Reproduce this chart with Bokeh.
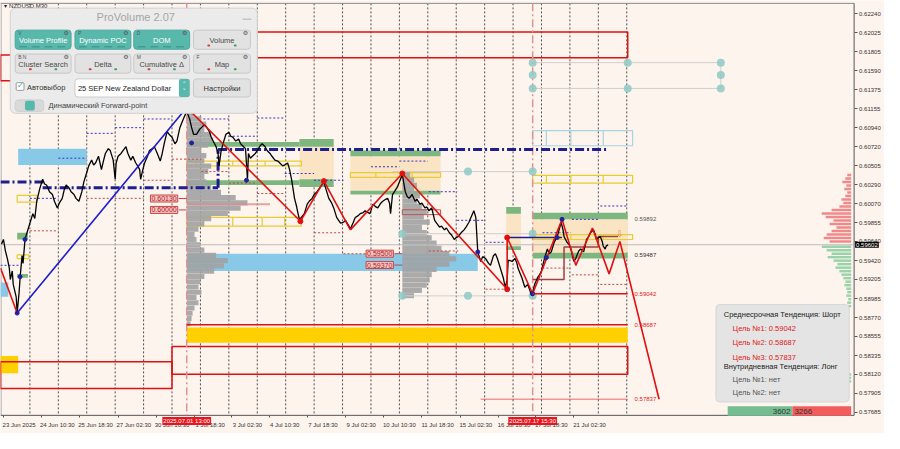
import numpy as np
from bokeh.plotting import figure
from bokeh.models import (Range1d, LinearAxis, FixedTicker, BoxAnnotation, Label, NumeralTickFormatter)
from bokeh.core.properties import value
from bokeh.embed import file_html
from bokeh.resources import INLINE

# ------------------------------------------------------------------ data
symbol = "NZDUSD,M30"
last_price = 0.59602

# close line (bar position, price)
price_x = [1, 3, 5, 7, 9, 10, 12, 13, 16, 17, 19, 20, 22, 23, 25, 27, 30, 33, 35, 37, 40, 43, 45, 47, 50,
           53, 55, 58, 60, 63, 65, 67, 70, 72, 75, 77, 80, 83, 85, 88, 90, 93, 95, 97, 100, 103, 105, 107,
           110, 112, 115, 117, 118, 120, 123, 125, 128, 130, 133, 135, 138, 140, 142, 143, 145, 147, 150,
           152, 155, 157, 160, 163, 165, 167, 170, 172, 175, 178, 180, 183, 185, 187, 190, 193, 195, 197,
           200, 203, 205, 208, 210, 213, 215, 217, 220, 222, 223, 225, 227, 230, 233, 235, 237, 240, 243,
           245, 248, 250, 252, 253, 255, 257, 260, 262, 265, 267, 270, 272, 275, 277, 280, 283, 285, 288,
           290, 293, 295, 297, 300, 302, 303, 305, 307, 310, 313, 315, 318, 320, 323, 325, 328, 330, 332,
           335, 338, 340, 343, 345, 347, 350, 352, 355, 357, 360, 362, 365, 367, 370, 372, 375, 377, 380,
           383, 385, 388, 390, 393, 395, 397, 398, 400, 402, 405, 407, 410, 413, 415, 417, 420, 423, 425,
           428, 430, 433, 435, 437, 440, 443, 445, 448, 450, 453, 455, 458, 460, 463, 465, 467, 470, 473,
           475, 478, 480, 483, 485, 486, 487, 490, 492, 495, 498, 500, 503, 505, 507, 510, 513, 515, 517,
           518, 520, 522, 525, 527, 528, 530, 532, 535, 538, 540, 542, 545, 548, 550, 552, 555, 558, 560,
           562, 565, 568, 570, 572, 574, 575, 578, 580, 582, 585, 587, 588, 590, 592, 595, 598, 600, 602,
           605, 607, 608, 610, 612, 614, 615, 617, 618, 620]
price_y = [0.59608, 0.59662, 0.59531, 0.59444, 0.59335, 0.59204, 0.59302, 0.59149, 0.59007, 0.58821,
           0.59062, 0.59225, 0.59477, 0.59389, 0.59662, 0.59739, 0.59848, 0.59957, 0.59903, 0.60099,
           0.60241, 0.60350, 0.60296, 0.60285, 0.60208, 0.60176, 0.60099, 0.60023, 0.60077, 0.60132,
           0.60230, 0.60285, 0.60252, 0.60208, 0.60176, 0.60132, 0.60099, 0.60208, 0.60318, 0.60427,
           0.60503, 0.60569, 0.60514, 0.60536, 0.60613, 0.60460, 0.60558, 0.60645, 0.60700, 0.60678,
           0.60569, 0.60350, 0.60536, 0.60613, 0.60645, 0.60678, 0.60722, 0.60645, 0.60569, 0.60613,
           0.60536, 0.60503, 0.60460, 0.60350, 0.60449, 0.60536, 0.60613, 0.60678, 0.60700, 0.60722,
           0.60645, 0.60558, 0.60645, 0.60755, 0.60897, 0.60864, 0.60831, 0.60755, 0.60787, 0.60940,
           0.60995, 0.61050, 0.61126, 0.61039, 0.60940, 0.60864, 0.60864, 0.60918, 0.60940, 0.60973,
           0.60951, 0.60897, 0.60831, 0.60787, 0.60722, 0.60645, 0.60503, 0.60667, 0.60755, 0.60864,
           0.60886, 0.60842, 0.60831, 0.60787, 0.60809, 0.60755, 0.60722, 0.60700, 0.60350, 0.60645,
           0.60591, 0.60613, 0.60645, 0.60678, 0.60733, 0.60755, 0.60722, 0.60678, 0.60645, 0.60613,
           0.60569, 0.60558, 0.60536, 0.60503, 0.60514, 0.60536, 0.60460, 0.60350, 0.60132, 0.60045,
           0.59990, 0.59892, 0.59914, 0.59957, 0.60066, 0.60099, 0.60132, 0.60176, 0.60208, 0.60241,
           0.60285, 0.60318, 0.60241, 0.60132, 0.60077, 0.60023, 0.59914, 0.59881, 0.59848, 0.59859,
           0.59881, 0.59826, 0.59782, 0.59859, 0.59914, 0.59935, 0.59957, 0.59968, 0.59990, 0.59968,
           0.59957, 0.60066, 0.60034, 0.60023, 0.60077, 0.60099, 0.60121, 0.60132, 0.60077, 0.59957,
           0.60176, 0.60208, 0.60263, 0.60318, 0.60405, 0.60208, 0.60154, 0.60132, 0.60176, 0.60099,
           0.60121, 0.60066, 0.60077, 0.60023, 0.60034, 0.59990, 0.60023, 0.59881, 0.59848, 0.59804,
           0.59815, 0.59772, 0.59793, 0.59739, 0.59717, 0.59662, 0.59684, 0.59695, 0.59739, 0.59772,
           0.59804, 0.59859, 0.59914, 0.59990, 0.59914, 0.59717, 0.59520, 0.59411, 0.59466, 0.59444,
           0.59389, 0.59367, 0.59477, 0.59498, 0.59444, 0.59335, 0.59225, 0.59116, 0.59204, 0.59422,
           0.59422, 0.59411, 0.59444, 0.59389, 0.59335, 0.59280, 0.59225, 0.59116, 0.59149, 0.59083,
           0.59018, 0.59149, 0.59225, 0.59258, 0.59302, 0.59444, 0.59553, 0.59498, 0.59520, 0.59630,
           0.59695, 0.59772, 0.59859, 0.59772, 0.59695, 0.59630, 0.59608, 0.59553, 0.59411, 0.59444,
           0.59477, 0.59531, 0.59553, 0.59520, 0.59662, 0.59695, 0.59739, 0.59772, 0.59717, 0.59662,
           0.59684, 0.59695, 0.59640, 0.59586, 0.59553, 0.59586, 0.59602]

# zigzag swings
zz_x = [0, 17, 190, 306, 330, 357, 410, 517, 517, 543]
zz_y = [0.59335, 0.58821, 0.61170, 0.59870, 0.60329, 0.59772, 0.60416, 0.59094, 0.59684, 0.59042]
zz_leg_color = ["#e01010", "#1c1cd0", "#e01010", "#e01010", "#e01010", "#e01010", "#e01010", "#e01010", "#e01010"]
fc_x = [543, 573, 587, 604, 621, 632, 672]
fc_y = [0.59042, 0.59892, 0.59367, 0.59793, 0.59269, 0.59640, 0.57837]
red_dot_x = [190, 306, 330, 410, 517, 517]
red_dot_y = [0.61170, 0.59870, 0.60329, 0.60416, 0.59094, 0.59684]
blue_dot_x = [17, 20, 25, 195, 251, 487, 543, 557, 568, 573]
blue_dot_y = [0.58821, 0.59236, 0.59662, 0.60765, 0.60339, 0.59520, 0.59042, 0.59455, 0.59684, 0.59892]

# targets
tgt_price = [0.59042, 0.58687, 0.57837]
tgt_x0 = [543, 190, 490]
zone_lbl_price = [0.59892, 0.59487]

# zones
blue_x0 = [18, 190, 0]
blue_x1 = [88, 487, 8]
blue_top = [0.60700, 0.59498, 0.59171]
blue_bot = [0.60514, 0.59302, 0.59007]

green_x0 = [17, 17, 190, 305, 190, 305, 357, 357, 516, 516, 543, 543]
green_x1 = [28, 28, 305, 340, 305, 340, 449, 449, 531, 531, 640, 640]
green_top = [0.59739, 0.59269, 0.60777, 0.60809, 0.60339, 0.60350, 0.60678, 0.60219, 0.60034, 0.59586, 0.59968, 0.59509]
green_bot = [0.59662, 0.59225, 0.60722, 0.60722, 0.60285, 0.60263, 0.60613, 0.60176, 0.59957, 0.59542, 0.59892, 0.59444]

peach_x0 = [305, 357, 516, 543]
peach_x1 = [340, 449, 531, 640]
peach_top = [0.60722, 0.60613, 0.59957, 0.59892]
peach_bot = [0.60350, 0.60219, 0.59586, 0.59509]

ybox_x0 = [190, 190, 357, 17, 17, 543, 543]
ybox_x1 = [307, 307, 449, 37, 29, 645, 645]
ybox_top = [0.60558, 0.59914, 0.60427, 0.60165, 0.59487, 0.60394, 0.59717]
ybox_bot = [0.60503, 0.59815, 0.60372, 0.60088, 0.59444, 0.60307, 0.59662]
ybox_div_box = [0, 0, 0, 1, 1, 1, 1, 2, 2, 5, 5, 5, 6, 6]
ybox_div_x = [200, 237, 270, 207, 237, 267, 290, 383, 420, 557, 582, 615, 582, 615]

lbox_x0, lbox_x1, lbox_top, lbox_bot = 543, 645, 0.60907, 0.60733
lbox_div_x = [557, 582, 615]

gold_x0 = [190, 0]
gold_x1 = [640, 18]
gold_top = [0.58657, 0.58330]
gold_bot = [0.58482, 0.58133]

rr_x0 = [175, 0, 175, 0]
rr_x1 = [640, 175, 640, 175]
rr_top = [0.62033, 0.61770, 0.58439, 0.58264]
rr_bot = [0.61738, 0.61475, 0.58122, 0.57958]

poc_x0 = [0, 43, 222, 222]
poc_x1 = [47, 222, 222, 618]
poc_y0 = [0.60318, 0.60252, 0.60252, 0.60689]
poc_y1 = [0.60318, 0.60252, 0.60689, 0.60689]

step_x = [543, 575, 575, 610, 610, 630]
step_y = [0.59204, 0.59204, 0.59575, 0.59575, 0.59695, 0.59695]

nav_x0 = [0, 30, 59, 88, 117, 146, 207, 233, 262, 290, 320, 378, 407, 437, 466, 495, 553, 583, 612]
nav_x1 = [20, 59, 88, 117, 146, 175, 233, 262, 290, 320, 350, 407, 436, 466, 495, 515, 582, 610, 640]
nav_y = [0.59367, 0.60132, 0.60591, 0.60875, 0.60940, 0.61039, 0.61039, 0.60842, 0.61050, 0.60416,
         0.60339, 0.60493, 0.60558, 0.60208, 0.59881, 0.59630, 0.59739, 0.59892, 0.60045]
rdot_x0 = [30, 88, 146, 175, 205, 233, 262, 320, 350, 437, 495, 553, 583, 612]
rdot_x1 = [59, 146, 175, 205, 233, 262, 290, 350, 378, 467, 515, 582, 610, 640]
rdot_y = [0.59761, 0.60132, 0.60339, 0.60580, 0.60438, 0.60307, 0.60187, 0.59739, 0.59498, 0.59531,
          0.59094, 0.59335, 0.59258, 0.59149]

lvl_box_price = [0.60130, 0.60000, 0.59500, 0.59370]
lvl_box_x = [153, 153, 373, 373]

# volume profiles
vp1_start = 190
vp1_price = [0.6110, 0.6104, 0.6098, 0.6092, 0.6086, 0.6080, 0.6074, 0.6068, 0.6062, 0.6056, 0.6050,
             0.6044, 0.6038, 0.6032, 0.6026, 0.6020, 0.6014, 0.6008, 0.6002, 0.5996, 0.5990, 0.5984,
             0.5978, 0.5972, 0.5966, 0.5960, 0.5954, 0.5948, 0.5942, 0.5936, 0.5930, 0.5924, 0.5918,
             0.5912, 0.5906, 0.5900, 0.5894, 0.5888, 0.5882, 0.5876, 0.5870]
vp1_vol = [8, 15, 20, 18, 25, 27, 22, 15, 20, 18, 25, 22, 18, 20, 25, 35, 50, 62, 55, 42, 25, 18, 12, 8,
           10, 14, 18, 30, 42, 38, 28, 18, 14, 12, 15, 10, 12, 8, 6, 5, 4]
vp1_poc = 0.60066
vp2_start = 410
vp2_price = [0.6040, 0.6034, 0.6028, 0.6022, 0.6016, 0.6010, 0.6004, 0.5998, 0.5992, 0.5986, 0.5980,
             0.5974, 0.5968, 0.5962, 0.5956, 0.5950, 0.5944, 0.5938, 0.5932, 0.5926, 0.5920, 0.5914,
             0.5908, 0.5902]
vp2_vol = [8, 12, 15, 12, 18, 15, 20, 25, 22, 28, 20, 25, 30, 35, 40, 48, 55, 48, 35, 30, 28, 25, 20, 12]

dom_ask_price = [0.6040, 0.6036, 0.6032, 0.6028, 0.6024, 0.6020, 0.6016, 0.6012, 0.6008, 0.6004, 0.6000,
                 0.5996, 0.5992, 0.5988, 0.5984, 0.5980, 0.5976, 0.5972, 0.5968, 0.5964]
dom_ask_vol = [4, 6, 9, 5, 7, 4, 6, 10, 8, 12, 20, 30, 26, 18, 22, 15, 20, 25, 28, 22]
dom_bid_price = [0.5958, 0.5954, 0.5950, 0.5946, 0.5942, 0.5938, 0.5934, 0.5930, 0.5926, 0.5922, 0.5918,
                 0.5914, 0.5910, 0.5906, 0.5902, 0.5898, 0.5894, 0.5890, 0.5812, 0.5808, 0.5804]
dom_bid_vol = [30, 25, 20, 24, 18, 14, 16, 12, 10, 8, 6, 7, 5, 4, 5, 3, 4, 3, 10, 14, 8]
dom_buy, dom_sell = 3602, 3266

# pivot dots
piv_x = [543, 543, 543, 640, 640, 735, 735, 735, 477, 543, 410, 543, 410, 477, 543]
piv_y = [0.61683, 0.61541, 0.61388, 0.61683, 0.61388, 0.61683, 0.61541, 0.61388,
         0.60438, 0.60438, 0.59728, 0.59728, 0.59018, 0.59018, 0.59018]

# axes
y_ticks = [0.62240, 0.62025, 0.61805, 0.61590, 0.61375, 0.61155, 0.60940, 0.60720, 0.60505, 0.60290,
           0.60070, 0.59855, 0.59640, 0.59420, 0.59205, 0.58985, 0.58770, 0.58555, 0.58335, 0.58120,
           0.57905, 0.57685]
x_label_pos = [3, 42, 81, 120, 159, 198, 236, 274, 313, 352, 391, 430, 469, 508, 546, 585]
x_labels = ["23 Jun 2025", "24 Jun 10:30", "25 Jun 18:30", "27 Jun 02:30", "30 Jun 10:30", "1 Jul 18:30",
            "3 Jul 02:30", "4 Jul 10:30", "7 Jul 18:30", "9 Jul 02:30", "10 Jul 10:30", "11 Jul 18:30",
            "15 Jul 02:30", "16 Jul 10:30", "17 Jul 18:30", "21 Jul 02:30"]
grid_x = [30, 59, 88, 117, 146, 175, 204, 233, 262, 291, 320, 349, 378, 407, 436, 465, 494, 523, 552, 581, 610, 639]
event_x = [190, 543]
event_lbl = ["2025.07.01 13:00", "2025.07.17 15:30"]

# ------------------------------------------------------------------ figure
BG = "#fdf4ee"
FONT = "Liberation Sans"
K = 0.00010923          # price per reference pixel row (layout helper for overlays)
def sy(py):
    return 0.62393 - K * py

X_AXIS = 871            # position of the price scale
Y_TOP, Y_BOT = sy(3), sy(434)

p = figure(width=884, height=433, output_backend="svg", toolbar_location=None,
           x_range=Range1d(0, 902), y_range=Range1d(sy(453), sy(0)),
           x_axis_location=None, y_axis_location=None,
           min_border_left=0, min_border_right=0, min_border_top=0, min_border_bottom=0,
           background_fill_color=BG, border_fill_color=BG, outline_line_color=None)
p.grid.visible = False

yax = LinearAxis(ticker=FixedTicker(ticks=y_ticks), formatter=NumeralTickFormatter(format="0.00000"),
                 fixed_location=X_AXIS,
                 major_label_text_font_size="6px", major_label_text_font=FONT,
                 major_label_text_color="#333333", major_tick_out=3, major_tick_in=0,
                 minor_tick_line_color=None, major_label_standoff=2,
                 axis_line_color=None, major_tick_line_color="#555555")
p.add_layout(yax, "right")
centers = [x + 16 for x in x_label_pos]
xax = LinearAxis(ticker=FixedTicker(ticks=centers, minor_ticks=x_label_pos),
                 fixed_location=Y_BOT,
                 major_label_overrides={c: l for c, l in zip(centers, x_labels)},
                 major_label_text_font_size="6px", major_label_text_font=FONT,
                 major_label_text_color="#333333", major_tick_line_color=None,
                 minor_tick_out=2, minor_tick_in=0, minor_tick_line_color="#555555",
                 major_label_standoff=1, axis_line_color=None)
p.add_layout(xax, "below")

# chart frame and time grid
p.segment(x0=grid_x, x1=grid_x, y0=[Y_TOP] * len(grid_x), y1=[Y_BOT] * len(grid_x),
          line_color="#505050", line_dash="2 2", line_width=1)
p.segment(x0=[0.5, 0, X_AXIS, 0], x1=[0.5, X_AXIS, X_AXIS, X_AXIS], y0=[Y_TOP, Y_TOP, Y_TOP, Y_BOT],
          y1=[Y_BOT, Y_TOP, Y_BOT, Y_BOT], line_color=["#9a9a9a", "#8a8a8a", "#555555", "#555555"], line_width=1)

# zones
p.quad(left=blue_x0, right=blue_x1, top=blue_top, bottom=blue_bot, fill_color="#88c9e8", line_color=None)
p.quad(left=peach_x0, right=peach_x1, top=peach_top, bottom=peach_bot, fill_color="#fbe4c3", line_color=None)
p.quad(left=green_x0, right=green_x1, top=green_top, bottom=green_bot, fill_color="#7db77f", line_color=None)
p.quad(left=gold_x0, right=gold_x1, top=gold_top, bottom=gold_bot, fill_color="#ffd000", line_color=None)
p.quad(left=ybox_x0, right=ybox_x1, top=ybox_top, bottom=ybox_bot, fill_color=None, line_color="#e8cc30", line_width=1.2)
p.segment(x0=ybox_div_x, x1=ybox_div_x, y0=[ybox_top[i] for i in ybox_div_box],
          y1=[ybox_bot[i] for i in ybox_div_box], line_color="#e8cc30", line_width=1.2)
p.quad(left=[lbox_x0], right=[lbox_x1], top=[lbox_top], bottom=[lbox_bot], fill_color=None, line_color="#a8d4e4", line_width=1.2)
p.segment(x0=lbox_div_x, x1=lbox_div_x, y0=[lbox_top] * 3, y1=[lbox_bot] * 3, line_color="#a8d4e4", line_width=1.2)

# volume profiles
p.hbar(y=vp1_price, left=vp1_start, right=list(vp1_start + np.array(vp1_vol)), height=0.00058,
       fill_color="#a2a2a2", line_color=None, fill_alpha=0.9)
p.segment(x0=[vp1_start], x1=[275], y0=[vp1_poc], y1=[vp1_poc], line_color="#d89090", line_width=2, line_alpha=0.8)
p.hbar(y=vp2_price, left=vp2_start, right=list(vp2_start + np.array(vp2_vol)), height=0.00058,
       fill_color="#a2a2a2", line_color=None, fill_alpha=0.9)
p.quad(left=[410], right=[449], top=[0.60001], bottom=[0.59946], fill_color=None, line_color="#c05050", line_width=1)

# DOM on the right
p.hbar(y=dom_ask_price, right=868, left=list(868 - np.array(dom_ask_vol)), height=0.00028,
       fill_color="#f08a8a", line_color=None)
p.hbar(y=dom_bid_price, right=868, left=list(868 - np.array(dom_bid_vol)), height=0.00028,
       fill_color="#9ad3aa", line_color=None)
kscale = 126 / (dom_buy + dom_sell)
p.hbar(y=[sy(429.5)], left=[742], right=[742 + dom_buy * kscale], height=K * 10, fill_color="#74bd90", line_color=None)
p.hbar(y=[sy(429.5)], left=[742 + dom_buy * kscale], right=[742 + (dom_buy + dom_sell) * kscale],
       height=K * 10, fill_color="#f25c5c", line_color=None)
p.text(x=[742 + dom_buy * kscale - 2], y=[sy(429.5)], text=[str(dom_buy)], text_align="right",
       text_baseline="middle", text_font_size="8px", text_font=value(FONT), text_color="#333333")
p.text(x=[742 + dom_buy * kscale + 2], y=[sy(429.5)], text=[str(dom_sell)], text_align="left",
       text_baseline="middle", text_font_size="8px", text_font=value(FONT), text_color="#333333")

# red rectangles
p.quad(left=rr_x0, right=rr_x1, top=rr_top, bottom=rr_bot, fill_color=None, line_color="#e01010", line_width=1.5)

# stepped dotted levels
p.segment(x0=nav_x0, x1=nav_x1, y0=nav_y, y1=nav_y, line_color="#3434c8", line_dash="2 2", line_width=1)
p.segment(x0=rdot_x0, x1=rdot_x1, y0=rdot_y, y1=rdot_y, line_color="#c04848", line_dash="2 2", line_width=1)

# event lines & current price line
p.segment(x0=event_x, x1=event_x, y0=[Y_TOP] * 2, y1=[Y_BOT] * 2, line_color="#e29090", line_dash="8 3 2 3", line_width=1.5)
p.segment(x0=[0], x1=[X_AXIS], y0=[last_price], y1=[last_price], line_color="#bcbcbc", line_width=1)

# pivot dots
p.segment(x0=[543, 543, 735, 400, 410, 410], x1=[735, 735, 735, 543, 543, 543],
          y0=[0.61683, 0.61388, 0.61683, 0.60438, 0.59728, 0.59018],
          y1=[0.61683, 0.61388, 0.61388, 0.60438, 0.59728, 0.59018], line_color="#cfcfcf", line_width=1)
p.scatter(piv_x, piv_y, size=8, fill_color="#8fc9c4", line_color=None, alpha=0.85)

# POC navy
p.segment(x0=poc_x0, x1=poc_x1, y0=poc_y0, y1=poc_y1, line_color="#1e1e8c", line_width=3, line_dash="9 3 2 3")
p.segment(x0=[517], x1=[573], y0=[0.59684], y1=[0.59684], line_color="#1e1e8c", line_width=1.5)
p.line(step_x, step_y, line_color="#a04040", line_width=1.5)

# price
p.line(price_x, price_y, line_color="#000000", line_width=1.3)

# zigzag
p.segment(x0=zz_x[:-1], x1=zz_x[1:], y0=zz_y[:-1], y1=zz_y[1:], line_color=zz_leg_color, line_width=1.6)
p.line(fc_x, fc_y, line_color="#e01010", line_width=1.6)
p.scatter(red_dot_x, red_dot_y, size=5, color="#e01010")
p.scatter(blue_dot_x, blue_dot_y, size=4, color="#2020a0")

# targets
p.segment(x0=tgt_x0, x1=[640] * 3, y0=tgt_price, y1=tgt_price, line_color="#e01010",
          line_width=[1.5, 1.5, 1], line_alpha=[1, 1, 0.6])
p.text(x=[647] * 5, y=zone_lbl_price + tgt_price, text=[f"{v:.5f}" for v in zone_lbl_price + tgt_price],
       text_baseline="middle", text_font_size="6px", text_font=value(FONT),
       text_color=["#555555", "#333333", "#e02020", "#e02020", "#e02020"])
p.text(x=[632], y=[sy(244)], text=["\u21e9"], text_align="center", text_baseline="middle",
       text_font_size="9px", text_font=value("DejaVu Sans"), text_color="#f08040")

# level boxes
p.segment(x0=[x + 29 for x in lvl_box_x], x1=[x + 37 for x in lvl_box_x], y0=lvl_box_price, y1=lvl_box_price,
          line_color="#d04040", line_width=1)
for x, v in zip(lvl_box_x, lvl_box_price):
    p.add_layout(Label(x=x, y=v, text=f"{v:.5f}", text_baseline="middle", text_font_size="7px", text_font=FONT,
                       text_color="#b02020", background_fill_color="#f3c4c4", border_line_color="#cc4444",
                       padding=1))

# ------------------------------------------------------------------ overlays (layout in reference pixels)
p.add_layout(Label(x=4, y=sy(9), text="\u25be " + symbol, text_font_size="6px", text_font=FONT,
                   text_color="#222222", text_baseline="bottom"))

def box(x0, x1, y0, y1, fill, line=None, r=3):
    p.add_layout(BoxAnnotation(left=x0, right=x1, top=sy(y0), bottom=sy(y1), fill_color=fill, fill_alpha=1,
                               line_color=line, line_alpha=1 if line else 0, border_radius=r))

def lab(x, y, t, size="8px", color="#444444", align="left", font=FONT):
    p.add_layout(Label(x=x, y=sy(y), text=t, text_font_size=size, text_color=color, text_align=align,
                       text_baseline="middle", text_font=font))

TEAL = "#59b8ac"
GRAY = "#e2e2e2"
box(10, 262, 8, 118, "#ebebeb", "#d2d2d2", 5)
lab(138, 17, "ProVolume 2.07", "11px", "#a5a5a5", "center")
box(247, 256, 19, 20, "#a0a0a0", None, 0)
buttons = [(15, 72, 31, 51, "Volume Profile", TEAL, "#ffffff", "V"),
           (76, 133, 31, 51, "Dynamic POC", TEAL, "#ffffff", "P"),
           (136, 193, 31, 51, "DOM", TEAL, "#ffffff", "D"),
           (197, 255, 31, 51, "Volume", GRAY, "#4a4a4a", ""),
           (15, 72, 56, 76, "Cluster Search", GRAY, "#4a4a4a", "B  N"),
           (76, 133, 56, 76, "Delta", GRAY, "#4a4a4a", ""),
           (136, 193, 56, 76, "Cumulative \u0394", GRAY, "#4a4a4a", "M"),
           (197, 255, 56, 76, "Map", GRAY, "#4a4a4a", "F")]
for x0, x1, y0, y1, t, fc, tc, tag in buttons:
    box(x0, x1, y0, y1, fc, "#c8c8c8" if fc == GRAY else "#4aa89c", 3)
    lab((x0 + x1) / 2, (y0 + y1) / 2 + 1, t, "7.5px", tc, "center")
    if tag:
        lab(x0 + 3, y0 + 3, tag, "5px", "#555555")
    lab(x1 - 5, y0 + 3, "\u2699", "6px", "#555555", "center", "DejaVu Sans")
    if fc == TEAL:
        for k in range(4):
            sx = x0 + 4 + k * 13
            box(sx, sx + 8, y1 - 3, y1 - 2, "#2f7f76", None, 0)
    else:
        box(x0 + 4, x1 - 4, y1 - 4, y1 - 4, "#cfcfcf", None, 0)
        box(x0 + 14, x0 + 17, y1 - 5, y1 - 3, "#d04040", None, 1)
        box(x1 - 17, x1 - 14, y1 - 5, y1 - 3, "#40a060", None, 1)
box(16, 24, 86, 94, "#ffffff", "#9a9a9a", 1)
lab(20.5, 88, "\u2713", "9px", TEAL, "center", "DejaVu Sans")
lab(27, 91, "\u0410\u0432\u0442\u043e\u0432\u044b\u0431\u043e\u0440", "7.5px", "#333333")
box(76, 193, 82, 101, "#ffffff", "#cccccc", 3)
lab(79, 92, "25 SEP New Zealand Dollar", "7.5px", "#222222")
box(182, 193, 82, 101, TEAL, None, 2)
lab(187.5, 88, "\u02c4", "7px", "#ffffff", "center", "DejaVu Sans")
lab(187.5, 96, "\u02c5", "7px", "#ffffff", "center", "DejaVu Sans")
box(197, 255, 82, 101, GRAY, "#c8c8c8", 3)
lab(226, 92, "\u041d\u0430\u0441\u0442\u0440\u043e\u0439\u043a\u0438", "7.5px", "#333333", "center")
box(15, 44, 104, 116, "#d9d9d9", "#cfcfcf", 3)
box(25, 35, 105, 115, TEAL, None, 2)
lab(49, 110, "\u0414\u0438\u043d\u0430\u043c\u0438\u0447\u0435\u0441\u043a\u0438\u0439 Forward-point", "7.5px", "#444444")

# info box
box(730, 866, 318, 420, "#e4e4e4", "#d6d6d6", 4)
lab(738, 328, "\u0421\u0440\u0435\u0434\u043d\u0435\u0441\u0440\u043e\u0447\u043d\u0430\u044f \u0422\u0435\u043d\u0434\u0435\u043d\u0446\u0438\u044f: \u0428\u043e\u0440\u0442", "7.5px", "#222222")
for i, v in enumerate(tgt_price):
    lab(747, 343 + 15 * i, f"\u0426\u0435\u043b\u044c \u2116{i + 1}: {v:.5f}", "7.5px", "#e02020")
lab(738, 383, "\u0412\u043d\u0443\u0442\u0440\u0438\u0434\u043d\u0435\u0432\u043d\u0430\u044f \u0422\u0435\u043d\u0434\u0435\u043d\u0446\u0438\u044f: \u041b\u043e\u043d\u0433", "7.5px", "#222222")
lab(747, 396, "\u0426\u0435\u043b\u044c \u21161: \u043d\u0435\u0442", "7.5px", "#555555")
lab(747, 410, "\u0426\u0435\u043b\u044c \u21162: \u043d\u0435\u0442", "7.5px", "#555555")

# axis badges
p.add_layout(Label(x=X_AXIS + 1, y=last_price, text=f"{last_price:.5f}", text_font_size="6px", text_font=FONT,
                   text_color="#ffffff", background_fill_color="#000000", text_baseline="middle", padding=1))
for x, t in zip(event_x, event_lbl):
    p.add_layout(Label(x=x, y=sy(440), text=t, text_font_size="6px", text_font=FONT, text_color="#ffffff",
                       background_fill_color="#e8141e", text_align="center", text_baseline="middle", padding=1))

open("out.html", "w").write(file_html(p, INLINE))
